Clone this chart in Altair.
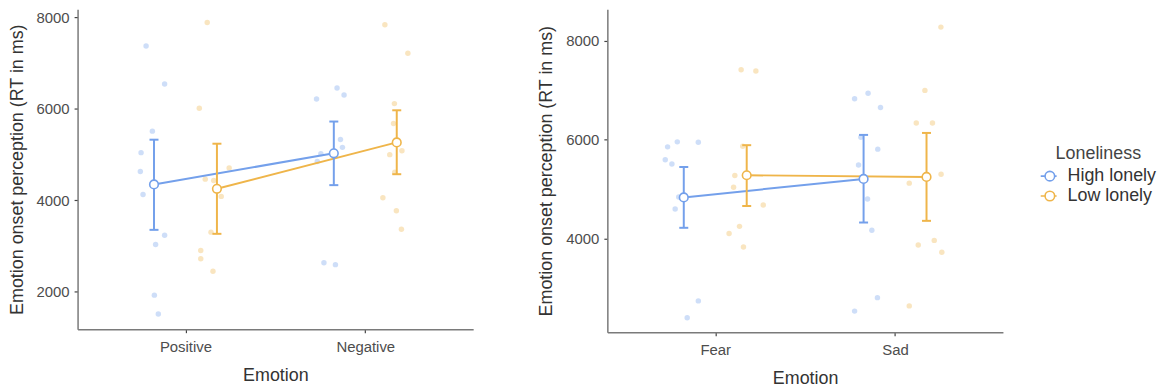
import altair as alt
import pandas as pd

# ---------------- data ----------------
groups = ["High lonely", "Low lonely"]
colors = ["#74A0EB", "#EFB54A"]

# Panel 1: Positive / Negative
p1_emotions = ["Positive", "Negative"]
p1_mean = {"High lonely": [4341, 5022], "Low lonely": [4246, 5261]}
p1_lo = {"High lonely": [3348, 4326], "Low lonely": [3261, 4565]}
p1_hi = {"High lonely": [5320, 5717], "Low lonely": [5232, 5963]}

p1_high_pos_rt = [7370, 6537, 5507, 5037, 4623, 4123, 3232, 3029, 1920, 1507]
p1_high_pos_jit = [-0.044, 0.059, -0.009, -0.072, -0.076, -0.061, 0.059, 0.009, 0.002, 0.024]
p1_low_pos_rt = [7884, 6007, 4703, 4457, 4428, 4080, 3298, 2898, 2717, 2442]
p1_low_pos_jit = [-0.054, -0.098, 0.068, -0.065, -0.018, 0.024, -0.033, -0.090, -0.090, -0.022]
p1_high_neg_rt = [6211, 6450, 6298, 5326, 5152, 5015, 4841, 2630, 2587, 5010]
p1_high_neg_jit = [-0.096, 0.018, 0.057, 0.037, 0.048, -0.072, -0.092, -0.055, 0.009, 0.0]
p1_low_neg_rt = [7833, 7211, 6109, 5674, 4993, 5080, 4609, 4050, 3767, 3363]
p1_low_neg_jit = [-0.066, 0.062, -0.013, -0.018, -0.039, 0.029, -0.011, -0.077, -0.002, 0.026]

# Panel 2: Fear / Sad
p2_emotions = ["Fear", "Sad"]
p2_mean = {"High lonely": [4830, 5206], "Low lonely": [5280, 5246]}
p2_lo = {"High lonely": [4215, 4322], "Low lonely": [4657, 4356]}
p2_hi = {"High lonely": [5447, 6097], "Low lonely": [5889, 6137]}

p2_high_fear_rt = [5956, 5855, 5950, 5594, 5508, 4597, 2734, 2392, 4838]
p2_high_fear_jit = [-0.036, -0.090, 0.081, -0.103, -0.066, -0.048, 0.081, 0.019, -0.028]
p2_low_fear_rt = [7417, 7391, 5869, 5276, 5035, 4677, 4244, 4100, 3825]
p2_low_fear_jit = [-0.031, 0.051, -0.022, -0.066, -0.073, 0.092, -0.040, -0.098, -0.018]
p2_high_sad_rt = [6828, 6941, 6653, 6050, 5809, 5487, 4798, 4167, 2800, 2527]
p2_high_sad_jit = [-0.050, 0.025, 0.094, -0.015, 0.079, -0.028, 0.022, 0.046, 0.077, -0.050]
p2_low_sad_rt = [6999, 6338, 6338, 5300, 5120, 8281, 3960, 3866, 3719, 2633]
p2_low_sad_jit = [-0.009, -0.057, 0.033, 0.081, -0.096, 0.080, 0.043, -0.046, 0.085, -0.096]

dodge = {"High lonely": -0.175, "Low lonely": 0.175}
CAP_HALF = 0.025  # half width of error-bar caps, in category units

FONT = "Liberation Sans"

LEGEND = alt.Legend(
    orient="none", legendX=968, legendY=137,
    title="Loneliness", titleAnchor="middle", titleAlign="center",
    symbolType="M-1,0L-0.45,0M0.75,0L1,0M0.75,0A0.6,0.6,0,1,1,-0.45,0A0.6,0.6,0,1,1,0.75,0",
    symbolSize=256, symbolStrokeWidth=1.6, symbolFillColor="white", symbolOpacity=1,
    labelFontSize=18, titleFontSize=18, labelFont=FONT, titleFont=FONT,
    titleFontWeight="normal", labelColor="#333333", titleColor="#444444",
    rowPadding=2, titlePadding=4, labelOffset=10,
)


def build_panel(emotions, means, los, his, raw, ydomain, yticks, height):
    summ_rows = []
    for g in groups:
        for i, e in enumerate(emotions):
            summ_rows.append({
                "Loneliness": g, "Emotion": e,
                "pos": i + 1 + dodge[g],
                "mean": means[g][i], "lo": los[g][i], "hi": his[g][i],
            })
    summ = pd.DataFrame(summ_rows)

    pt_rows = []
    for (g, i), (vals, jits) in raw.items():
        for v, j in zip(vals, jits):
            pt_rows.append({"Loneliness": g, "Emotion": emotions[i],
                            "pos": i + 1 + dodge[g] + j, "rt": v})
    pts = pd.DataFrame(pt_rows)

    label_expr = f"datum.value == 1 ? '{emotions[0]}' : '{emotions[1]}'"
    xscale = alt.Scale(domain=[0.4, 2.6], nice=False, zero=False)
    xaxis = alt.Axis(values=[1, 2], labelExpr=label_expr, title="Emotion")
    xenc = alt.X("pos:Q", scale=xscale, axis=xaxis)
    yscale = alt.Scale(domain=ydomain, nice=False, zero=False)
    yaxis = alt.Axis(values=yticks, format="d", title="Emotion onset perception (RT in ms)")
    col = alt.Color("Loneliness:N", scale=alt.Scale(domain=groups, range=colors), legend=LEGEND)

    layers = []
    # jittered raw points (per group, constant colour)
    for g, c in zip(groups, colors):
        layers.append(alt.Chart(pts).transform_filter(alt.datum.Loneliness == g)
                      .mark_circle(size=30, opacity=0.35, color=c).encode(
            x=xenc, y=alt.Y("rt:Q", scale=yscale, axis=yaxis)))
    # mean lines (carry the legend)
    layers.append(alt.Chart(summ).mark_line(strokeWidth=2).encode(
        x=xenc, y=alt.Y("mean:Q", scale=yscale, axis=yaxis), color=col, order="pos:Q"))
    for g, c in zip(groups, colors):
        base = alt.Chart(summ).transform_filter(alt.datum.Loneliness == g)
        layers.append(base.mark_rule(strokeWidth=2, color=c).encode(
            x=xenc, y=alt.Y("lo:Q", scale=yscale, axis=yaxis), y2="hi:Q"))
        layers.append(base.transform_fold(["lo", "hi"], as_=["end", "val"])
                      .transform_calculate(x1=f"datum.pos - {CAP_HALF}",
                                           x2=f"datum.pos + {CAP_HALF}")
                      .mark_rule(strokeWidth=2, color=c).encode(
            x=alt.X("x1:Q", scale=xscale, axis=xaxis), x2="x2:Q",
            y=alt.Y("val:Q", scale=yscale, axis=yaxis)))
    for g, c in zip(groups, colors):
        layers.append(alt.Chart(summ).transform_filter(alt.datum.Loneliness == g)
                      .mark_point(filled=True, fill="white", stroke=c, size=75,
                                  strokeWidth=1.6, opacity=1).encode(
            x=xenc, y=alt.Y("mean:Q", scale=yscale, axis=yaxis)))
    return alt.layer(*layers).properties(width=398, height=height)


left = build_panel(
    p1_emotions, p1_mean, p1_lo, p1_hi,
    {("High lonely", 0): (p1_high_pos_rt, p1_high_pos_jit),
     ("Low lonely", 0): (p1_low_pos_rt, p1_low_pos_jit),
     ("High lonely", 1): (p1_high_neg_rt, p1_high_neg_jit),
     ("Low lonely", 1): (p1_low_neg_rt, p1_low_neg_jit)},
    [1175, 8175], [2000, 4000, 6000, 8000], 322)

right = build_panel(
    p2_emotions, p2_mean, p2_lo, p2_hi,
    {("High lonely", 0): (p2_high_fear_rt, p2_high_fear_jit),
     ("Low lonely", 0): (p2_low_fear_rt, p2_low_fear_jit),
     ("High lonely", 1): (p2_high_sad_rt, p2_high_sad_jit),
     ("Low lonely", 1): (p2_low_sad_rt, p2_low_sad_jit)},
    [2100, 8645], [4000, 6000, 8000], 325)

chart = alt.hconcat(left, right, spacing=65).resolve_scale(
    x="independent", y="independent", color="shared"
).properties(
    padding={"left": 0, "top": 0, "right": 0, "bottom": 0}
).configure_view(stroke=None).configure_axis(
    grid=False,
    domainColor="#7a7a7a", domainWidth=1.5,
    tickColor="#444444", tickWidth=1.2, tickSize=3.5,
    labelFont=FONT, labelFontSize=15, labelColor="#4d4d4d", labelPadding=5,
    titleFont=FONT, titleFontSize=18, titleFontWeight="normal", titleColor="#333333",
).configure_axisY(titlePadding=10).configure_axisX(titlePadding=12, labelPadding=7)

chart.save("out.html", embed_options={"renderer": "svg", "actions": False})
